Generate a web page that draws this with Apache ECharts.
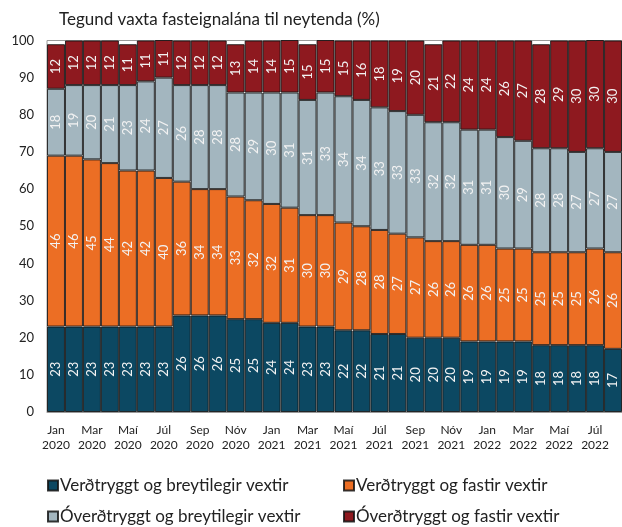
<!DOCTYPE html>
<html>
<head>
<meta charset="utf-8">
<script src="https://cdn.jsdelivr.net/npm/echarts@6/dist/echarts.min.js"></script>
<style>
  html, body { margin: 0; padding: 0; background: #fff; }
  #chart { width: 622px; height: 527px; }
</style>
</head>
<body>
<div id="chart"></div>
<script>
// Monthly categories, Jan 2020 – Aug 2022
const monthNames = ['Jan','Feb','Mar','Apr','Maí','Jún','Júl','Ágú','Sep','Okt','Nóv','Des'];
const years = [2020, 2021, 2022];
const monthCount = 32;

// Shares of new mortgage loans by type (%)
const verdtrBreyt = [23,23,23,23,23,23,23,26,26,26,25,25,24,24,23,23,22,22,21,21,20,20,20,19,19,19,19,18,18,18,18,17];
const verdtrFast  = [46,46,45,44,42,42,40,36,34,34,33,32,32,31,30,30,29,28,28,27,27,26,26,26,26,25,25,25,25,25,26,26];
const overdBreyt  = [18,19,20,21,23,24,27,26,28,28,28,29,30,31,31,33,34,34,33,33,33,32,32,31,31,30,29,28,28,27,27,27];
const overdFast   = [12,12,12,12,11,11,11,12,12,12,13,14,14,15,15,15,15,16,18,19,20,21,22,24,24,26,27,28,29,30,30,30];

const seriesNames = [
  'Verðtryggt og breytilegir vextir',
  'Verðtryggt og fastir vextir',
  'Óverðtryggt og breytilegir vextir',
  'Óverðtryggt og fastir vextir'
];
const yTicks = [0,10,20,30,40,50,60,70,80,90,100];

const categories = [];
for (let i = 0; i < monthCount; i++) {
  categories.push(monthNames[i % 12] + '\n' + years[Math.floor(i / 12)]);
}

const colors = ['#0c4862', '#ec6e24', '#a3b6bf', '#8e191f'];
const font = 'Lato, "Open Sans", sans-serif';

function makeSeries(name, data, color) {
  return {
    name: name,
    type: 'bar',
    stack: 'total',
    data: data,
    barCategoryGap: '0%',
    itemStyle: { color: color, borderColor: 'rgba(20,20,20,0.85)', borderWidth: 1 },
    label: {
      show: true,
      position: 'inside',
      rotate: 90,
      color: '#f2f2f2',
      fontFamily: font,
      fontSize: 13
    },
    emphasis: { disabled: true }
  };
}

const chart = echarts.init(document.getElementById('chart'), null, { renderer: 'canvas' });

const legendBase = {
  itemWidth: 10,
  itemHeight: 10,
  icon: 'rect',
  itemGap: 4,
  textStyle: { fontFamily: font, fontSize: 17, color: '#222', padding: [0, 0, 0, -3] },
  selectedMode: false
};

chart.setOption({
  animation: false,
  backgroundColor: '#fff',
  title: {
    text: 'Tegund vaxta fasteignalána til neytenda (%)',
    left: 54,
    top: 6,
    textStyle: { fontFamily: font, fontSize: 17, fontWeight: 'normal', color: '#222' }
  },
  legend: [
    Object.assign({}, legendBase, { data: [seriesNames[0]], left: 42, top: 472 }),
    Object.assign({}, legendBase, { data: [seriesNames[1]], left: 338, top: 472 }),
    Object.assign({}, legendBase, { data: [seriesNames[2]], left: 42, top: 503 }),
    Object.assign({}, legendBase, { data: [seriesNames[3]], left: 338, top: 503 })
  ],
  grid: {
    left: 47,
    top: 40.5,
    right: -3,
    bottom: 115,
    show: true,
    borderColor: '#9a9a9a',
    borderWidth: 1,
    backgroundColor: 'transparent'
  },
  xAxis: {
    type: 'category',
    data: categories,
    axisTick: { show: false },
    axisLine: { show: true, lineStyle: { color: '#9a9a9a' } },
    axisLabel: {
      interval: 1,
      margin: 11,
      fontFamily: font,
      fontSize: 12,
      lineHeight: 15,
      color: '#222'
    }
  },
  yAxis: {
    type: 'value',
    min: yTicks[0],
    max: yTicks[yTicks.length - 1],
    interval: yTicks[1] - yTicks[0],
    axisLine: { show: false },
    axisTick: { show: false },
    splitLine: { show: false },
    axisLabel: { margin: 13, fontFamily: font, fontSize: 13, color: '#222' }
  },
  series: [
    makeSeries(seriesNames[0], verdtrBreyt, colors[0]),
    makeSeries(seriesNames[1], verdtrFast, colors[1]),
    makeSeries(seriesNames[2], overdBreyt, colors[2]),
    makeSeries(seriesNames[3], overdFast, colors[3])
  ]
});
</script>
</body>
</html>
